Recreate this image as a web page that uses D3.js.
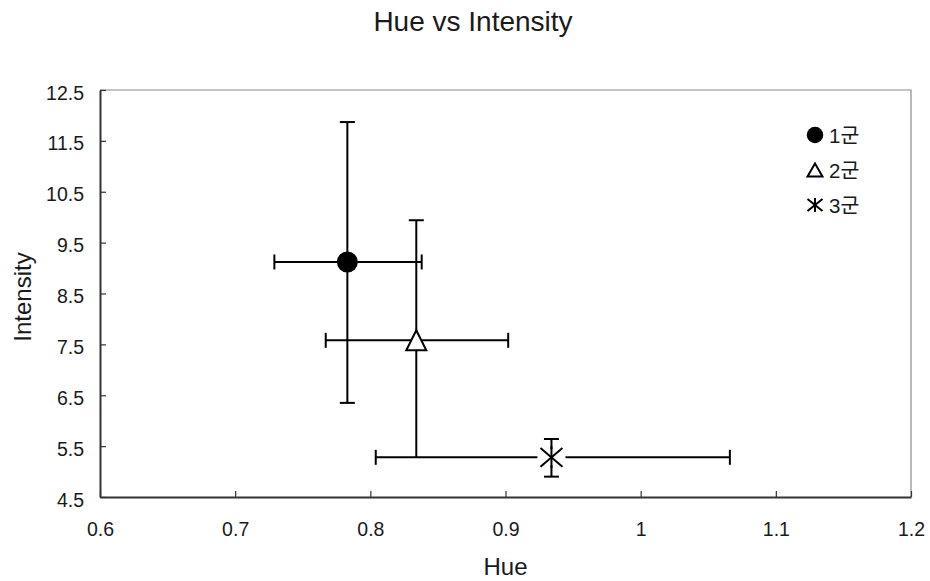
<!DOCTYPE html>
<html>
<head>
<meta charset="utf-8">
<script src="https://cdn.jsdelivr.net/npm/d3@7"></script>
<style>
  html, body { margin: 0; padding: 0; background: #fff; }
  svg text { font-family: "Liberation Sans", Arial, "Noto Sans CJK KR", sans-serif; fill: #1a1a1a; }
</style>
</head>
<body>
<svg id="chart" width="930" height="581"></svg>
<script>
// Group summary: mean hue / intensity with error ranges
const groups = ["1군", "2군", "3군"];
const markers = ["circle", "triangle", "asterisk"];
const hueMean = [0.783, 0.834, 0.934];
const hueLow = [0.729, 0.767, 0.804];
const hueHigh = [0.838, 0.902, 1.066];
const intMean = [9.12, 7.58, 5.28];
const intLow = [6.35, 5.28, 4.90];
const intHigh = [11.87, 9.94, 5.64];

const xTicks = [0.6, 0.7, 0.8, 0.9, 1.0, 1.1, 1.2];
const yTicks = [4.5, 5.5, 6.5, 7.5, 8.5, 9.5, 10.5, 11.5, 12.5];

const svg = d3.select("#chart");
const plot = { left: 100, top: 90, right: 911, bottom: 497 };

const x = d3.scaleLinear().domain([0.6, 1.2]).range([plot.left, plot.right]);
const y = d3.scaleLinear().domain([4.5, 12.5]).range([plot.bottom, plot.top]);

// Title
svg.append("text")
  .attr("x", 473).attr("y", 31)
  .attr("text-anchor", "middle")
  .style("font-size", "28px")
  .text("Hue vs Intensity");

// Frame: top and right edges in light grey
svg.append("path")
  .attr("d", `M${plot.left},${plot.top}H${plot.right}V${plot.bottom}`)
  .attr("fill", "none").attr("stroke", "#8a8a8a").attr("stroke-width", 1.2);

// Axes with inward ticks
const xAxis = svg.append("g")
  .attr("transform", `translate(0,${plot.bottom})`)
  .call(d3.axisBottom(x).tickValues(xTicks).tickSizeInner(-6).tickSizeOuter(0)
    .tickFormat(d => String(+d.toFixed(1))));
const yAxis = svg.append("g")
  .attr("transform", `translate(${plot.left},0)`)
  .call(d3.axisLeft(y).tickValues(yTicks).tickSizeInner(-6).tickSizeOuter(0)
    .tickFormat(d => d.toFixed(1)));

[xAxis, yAxis].forEach(g => {
  g.select(".domain").attr("stroke", "#333").attr("stroke-width", 2);
  g.selectAll(".tick line").attr("stroke", "#333").attr("stroke-width", 1.2);
  g.selectAll(".tick text").style("font-size", "19.5px")
    .style("font-family", "'Liberation Sans', Arial, sans-serif").attr("fill", "#1a1a1a");
});
xAxis.selectAll(".tick text").attr("dy", null).attr("y", 39);
yAxis.selectAll(".tick text").attr("dy", null).attr("x", -16).attr("y", 9);

// Axis titles
svg.append("text")
  .attr("x", (plot.left + plot.right) / 2).attr("y", 575)
  .attr("text-anchor", "middle")
  .style("font-size", "24px")
  .text("Hue");
svg.append("text")
  .attr("transform", `translate(31,297) rotate(-90)`)
  .attr("text-anchor", "middle")
  .style("font-size", "24px")
  .text("Intensity");

// Error bars
const cap = 7.5;
const bars = svg.append("g").attr("stroke", "#000").attr("stroke-width", 2).attr("fill", "none");
groups.forEach((g, i) => {
  const cx = x(hueMean[i]), cy = y(intMean[i]);
  const xl = x(hueLow[i]), xh = x(hueHigh[i]);
  const yl = y(intLow[i]), yh = y(intHigh[i]);
  bars.append("line").attr("x1", xl).attr("x2", xh).attr("y1", cy).attr("y2", cy);
  bars.append("line").attr("x1", xl).attr("x2", xl).attr("y1", cy - cap).attr("y2", cy + cap);
  bars.append("line").attr("x1", xh).attr("x2", xh).attr("y1", cy - cap).attr("y2", cy + cap);
  bars.append("line").attr("x1", cx).attr("x2", cx).attr("y1", yl).attr("y2", yh);
  bars.append("line").attr("x1", cx - cap).attr("x2", cx + cap).attr("y1", yh).attr("y2", yh);
  if (i !== 1) {
    bars.append("line").attr("x1", cx - cap).attr("x2", cx + cap).attr("y1", yl).attr("y2", yl);
  }
});

// Marker drawing
function drawMarker(sel, type, cx, cy, w, h, bg) {
  const g = sel.append("g").attr("transform", `translate(${cx},${cy})`);
  if (type === "circle") {
    g.append("circle").attr("r", w / 2).attr("fill", "#000");
  } else if (type === "triangle") {
    g.append("path")
      .attr("d", `M0,${-h / 2}L${w / 2},${h / 2}L${-w / 2},${h / 2}Z`)
      .attr("fill", "#fff").attr("stroke", "#000").attr("stroke-width", 2)
      .attr("stroke-linejoin", "miter");
  } else {
    const rx = w / 2, ry = h / 2;
    if (bg) g.append("rect").attr("x", -rx - 3).attr("y", -ry + 3).attr("width", 2 * rx + 6).attr("height", 2 * ry - 6).attr("fill", "#fff");
    const st = g.append("g").attr("stroke", "#000").attr("stroke-width", 2);
    st.append("line").attr("x1", -rx).attr("y1", -ry * 0.85).attr("x2", rx).attr("y2", ry * 0.85);
    st.append("line").attr("x1", -rx).attr("y1", ry * 0.85).attr("x2", rx).attr("y2", -ry * 0.85);
    st.append("line").attr("x1", 0).attr("y1", -ry).attr("x2", 0).attr("y2", ry);
  }
}

const marks = svg.append("g");
groups.forEach((g, i) => {
  const m = markers[i];
  const w = m === "circle" ? 21 : (m === "triangle" ? 20 : 22);
  const h = m === "asterisk" ? 22 : w;
  drawMarker(marks, m, x(hueMean[i]), y(intMean[i]), w, h, true);
});

// Legend
const legend = svg.append("g");
groups.forEach((g, i) => {
  const ly = 135 + i * 35;
  const m = markers[i];
  const w = m === "circle" ? 16.5 : 15;
  const h = m === "circle" ? 16.5 : (m === "triangle" ? 13 : 14);
  drawMarker(legend, m, 815, ly, w, h, false);
  legend.append("text")
    .attr("x", 829).attr("y", ly + 8)
    .style("font-size", "20.5px")
    .text(g);
});
</script>
</body>
</html>
